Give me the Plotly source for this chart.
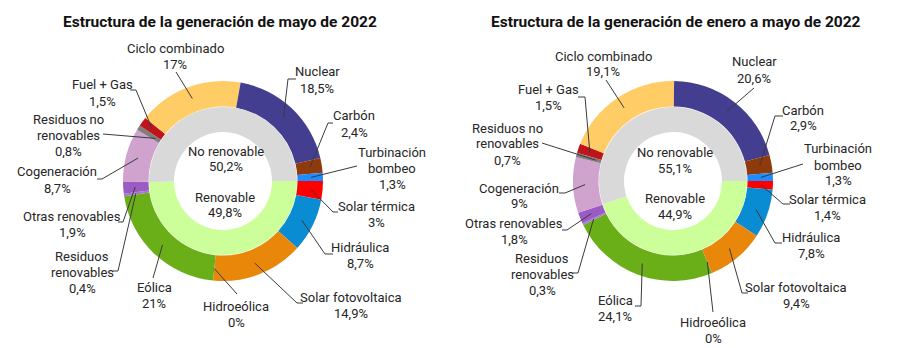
import math
import plotly.graph_objects as go

W, H = 900, 348

# ---------------- data ----------------
tecnologias = ["Turbinación bombeo", "Carbón", "Nuclear", "Ciclo combinado", "Fuel + Gas",
               "Residuos no renovables", "Cogeneración", "Otras renovables", "Residuos renovables",
               "Eólica", "Hidroeólica", "Solar fotovoltaica", "Hidráulica", "Solar térmica"]
pct_mayo = [1.3, 2.4, 18.5, 17, 1.5, 0.8, 8.7, 1.9, 0.4, 21, 0, 14.9, 8.7, 3]
pct_ene_may = [1.3, 2.9, 20.6, 19.1, 1.5, 0.7, 9, 1.8, 0.3, 24.1, 0, 9.4, 7.8, 1.4]
grupos = ["No renovable", "Renovable"]
grp_mayo = [50.2, 49.8]
grp_ene_may = [55.1, 44.9]
titulos = ["Estructura de la generación de mayo de 2022",
           "Estructura de la generación de enero a mayo de 2022"]

# ---------------- style ----------------
colores = {
    "Turbinación bombeo": "#1E8CFF", "Carbón": "#8E3A0A", "Nuclear": "#433E90",
    "Ciclo combinado": "#FFCC66", "Fuel + Gas": "#C0141C", "Residuos no renovables": "#7F7F7F",
    "Cogeneración": "#CFA3CD", "Otras renovables": "#9B5BC4", "Residuos renovables": "#A779CF",
    "Eólica": "#6AAF18", "Hidroeólica": "#3B7D23", "Solar fotovoltaica": "#E8870A",
    "Hidráulica": "#0A8CD2", "Solar térmica": "#FF0000",
}
colores_grp = {"No renovable": "#D9D9D9", "Renovable": "#CCFF99"}
nombres = {
    "Turbinación bombeo": ["Turbinación", "bombeo"],
    "Residuos no renovables": ["Residuos no", "renovables"],
    "Residuos renovables": ["Residuos", "renovables"],
}
FONT = "Roboto, Arial, sans-serif"
TXT = "#262626"
LINE = "#3A3A3A"
LH = 16  # line height in px
FS = 13

R_OUT, R_OUT_IN, R_IN, R_HOLE = 100, 74.5, 74, 49
CY = 181

# label layout per chart: name -> (text x, first-line y, line start x, y, elbow x, anchor radius)
lay1 = {
    "Ciclo combinado": (175, 48, 176, 72, None, 88),
    "Nuclear": (317, 72, 296, 79, 288, 88),
    "Carbón": (354, 116, 333, 123, 328, 88),
    "Turbinación bombeo": (392, 152, 357, 166, None, 88),
    "Solar térmica": (376, 206, 338, 212, 333, 88),
    "Hidráulica": (360, 247, 333, 254, 325, 88),
    "Solar fotovoltaica": (351, 297, 303, 303, 297, 88),
    "Hidroeólica": (236, 306, 237, 294, None, 88),
    "Eólica": (154, 287, 153, 278, None, 88),
    "Residuos renovables": (82, 256, 113, 271, 118, 88),
    "Otras renovables": (72, 216, 118, 222, 123, 88),
    "Cogeneración": (57, 172, 97, 179, 102, 88),
    "Residuos no renovables": (68, 119, 103, 134, None, 80),
    "Fuel + Gas": (102, 85, 130, 90, 136, 88),
}
lay2 = {
    "Ciclo combinado": (603, 56, 606, 80, None, 88),
    "Nuclear": (754, 62, 754, 88, None, 88),
    "Carbón": (803, 110, 783, 116, 775, 88),
    "Turbinación bombeo": (838, 149, 803, 164, None, 88),
    "Solar térmica": (827, 199, 790, 204, 783, 88),
    "Hidráulica": (811, 237, 782, 243, 775, 88),
    "Solar fotovoltaica": (796, 287, 748, 293, 742, 88),
    "Hidroeólica": (713, 322, 713, 312, None, 88),
    "Eólica": (615, 300, 635, 306, 641, 88),
    "Residuos renovables": (542, 258, 573, 273, 578, 88),
    "Otras renovables": (514, 223, 562, 230, 567, 88),
    "Cogeneración": (519, 188, 559, 193, 565, 88),
    "Residuos no renovables": (507, 128, 542, 143, None, 80),
    "Fuel + Gas": (548, 89, 578, 97, 585, 88),
}
charts = [
    dict(cx=223, vals=pct_mayo, grp=grp_mayo, title=titulos[0], tx=220, lay=lay1,
         ctr=[(226, 151), (225, 197)]),
    dict(cx=673, vals=pct_ene_may, grp=grp_ene_may, title=titulos[1], tx=676, lay=lay2,
         ctr=[(675, 152), (675, 198)]),
]


def px(x):
    return x / W


def py(y):
    return 1 - y / H


def fmt(v):
    return f"{v:g}".replace(".", ",") + "%"


def dom(cx, r):
    return dict(x=[px(cx - r), px(cx + r)], y=[py(CY + r), py(CY - r)])


fig = go.Figure()
annotations = []
shapes = []

for ch in charts:
    cx = ch["cx"]
    # slices listed counter-clockwise from 3 o'clock; drawn clockwise from 3 o'clock in reverse
    t_rev = tecnologias[::-1]
    v_rev = ch["vals"][::-1]
    fig.add_trace(go.Pie(
        labels=t_rev, values=v_rev, sort=False, direction="clockwise",
        rotation=90, hole=R_OUT_IN / R_OUT, domain=dom(cx, R_OUT), textinfo="none",
        marker=dict(colors=[colores[t] for t in t_rev], line=dict(width=0)),
        showlegend=False, hoverinfo="label+value"))
    g_rev = grupos[::-1]
    fig.add_trace(go.Pie(
        labels=g_rev, values=ch["grp"][::-1], sort=False, direction="clockwise",
        rotation=90, hole=R_HOLE / R_IN, domain=dom(cx, R_IN), textinfo="none",
        marker=dict(colors=[colores_grp[g] for g in g_rev], line=dict(width=0)),
        showlegend=False, hoverinfo="label+value"))

    annotations.append(dict(x=px(ch["tx"]), y=py(22), text=f"<b>{ch['title']}</b>",
                            showarrow=False, xref="paper", yref="paper",
                            xanchor="center", yanchor="middle",
                            font=dict(family=FONT, size=15.5, color="#111111")))

    # centre texts
    for (gx, gy), g, v in zip(ch["ctr"], grupos, ch["grp"]):
        for i, line in enumerate([g, fmt(v)]):
            annotations.append(dict(x=px(gx), y=py(gy + i * LH), text=line, showarrow=False,
                                    xref="paper", yref="paper", xanchor="center",
                                    yanchor="middle", font=dict(family=FONT, size=FS, color=TXT)))

    total = sum(ch["vals"])
    cum = 0.0
    for t, v in zip(tecnologias, ch["vals"]):
        ang = 2 * math.pi * (cum + v / 2) / total
        cum += v
        tx, ty, sx, sy, ex, ra = ch["lay"][t]
        lines = nombres.get(t, [t]) + [fmt(v)]
        for i, line in enumerate(lines):
            annotations.append(dict(x=px(tx), y=py(ty + i * LH), text=line, showarrow=False,
                                    xref="paper", yref="paper", xanchor="center",
                                    yanchor="middle", font=dict(family=FONT, size=FS, color=TXT)))
        ax = cx + ra * math.cos(ang)
        ay = CY - ra * math.sin(ang)
        pts = [(sx, sy)]
        if ex is not None:
            pts.append((ex, sy))
        pts.append((ax, ay))
        path = "M " + " L ".join(f"{px(a):.5f},{py(b):.5f}" for a, b in pts)
        shapes.append(dict(type="path", path=path, xref="paper", yref="paper",
                           line=dict(color=LINE, width=1)))

fig.update_layout(
    width=W, height=H, margin=dict(l=0, r=0, t=0, b=0),
    paper_bgcolor="white", plot_bgcolor="white",
    annotations=annotations, shapes=shapes,
)

fig.write_html("out.html")
